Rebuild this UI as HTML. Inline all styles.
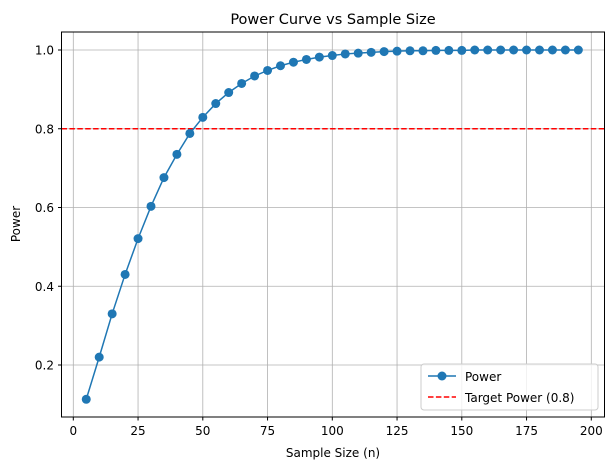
<!DOCTYPE html>
<html><head><meta charset="utf-8"><style>
body{margin:0;background:#fff;}
text{font-family:"DejaVu Sans","Liberation Sans",sans-serif;}
</style></head><body>
<svg id="chart" width="615" height="470" xmlns="http://www.w3.org/2000/svg">
<rect width="615" height="470" fill="#fff"/>
<g id="grid"></g>
<g id="ticks"></g>
<line id="target" stroke="red" stroke-width="1.5" stroke-dasharray="5.5,2.4"/>
<polyline id="line" fill="none" stroke="#1f77b4" stroke-width="1.5"/>
<g id="pts"></g>
<rect x="61.5" y="32" width="543" height="385" fill="none" stroke="#000" stroke-width="1"/>
<text x="333" y="24" font-size="14.5" text-anchor="middle">Power Curve vs Sample Size</text>
<text x="333" y="457" font-size="12" text-anchor="middle">Sample Size (n)</text>
<text transform="translate(20,224) rotate(-90)" font-size="12" text-anchor="middle">Power</text>
<g>
<rect x="421" y="364" width="177" height="46" rx="3" fill="#fff" fill-opacity="0.8" stroke="#ccc"/>
<line x1="428" y1="376" x2="456" y2="376" stroke="#1f77b4" stroke-width="1.5"/>
<circle cx="442" cy="376" r="4.5" fill="#1f77b4"/>
<text x="465" y="381" font-size="12">Power</text>
<line x1="428" y1="397" x2="456" y2="397" stroke="red" stroke-width="1.5" stroke-dasharray="5.5,2.4"/>
<text x="465" y="402" font-size="12">Target Power (0.8)</text>
</g>
</svg>
<script>
const sampleSizes=[5,10,15,20,25,30,35,40,45,50,55,60,65,70,75,80,85,90,95,100,105,110,115,120,125,130,135,140,145,150,155,160,165,170,175,180,185,190,195];
const powerValues=[0.113,0.22,0.33,0.43,0.521,0.603,0.676,0.735,0.788,0.829,0.864,0.892,0.915,0.934,0.948,0.96,0.969,0.976,0.982,0.986,0.99,0.992,0.994,0.996,0.997,0.998,0.998,0.999,0.999,0.999,1.0,1.0,1.0,1.0,1.0,1.0,1.0,1.0,1.0];
const xTicks=[0,25,50,75,100,125,150,175,200];
const yTicks=[0.2,0.4,0.6,0.8,1.0];
const targetPower=0.8;
const NS="http://www.w3.org/2000/svg";
const X=v=>73.3+v*2.59, Y=v=>50+(1-v)*393.75;
function mk(tag,attrs,parent){const e=document.createElementNS(NS,tag);for(const k in attrs)e.setAttribute(k,attrs[k]);parent.appendChild(e);return e;}
const grid=document.getElementById('grid'),ticks=document.getElementById('ticks');
xTicks.forEach(t=>{const x=X(t);
 const g=mk('line',{x1:x,x2:x,y1:32,y2:417,stroke:'#b0b0b0','stroke-width':0.8},grid);
 
 
 mk('line',{x1:x,x2:x,y1:417,y2:420.5,stroke:'#000'},ticks);
 const tx=mk('text',{x:x,y:435,'font-size':12,'text-anchor':'middle'},ticks);tx.textContent=t;
 
 
});
yTicks.forEach(t=>{const y=Y(t);
 const g=mk('line',{x1:61.5,x2:604.5,y1:y,y2:y,stroke:'#b0b0b0','stroke-width':0.8},grid);
 
 
 mk('line',{x1:58,x2:61.5,y1:y,y2:y,stroke:'#000'},ticks);
 const tx=mk('text',{x:54,y:y+4.5,'font-size':12,'text-anchor':'end'},ticks);tx.textContent=t.toFixed(1);
 
 
});
const tl=document.getElementById('target');
tl.setAttribute('x1',61.5);tl.setAttribute('x2',604.5);tl.setAttribute('y1',Y(targetPower));tl.setAttribute('y2',Y(targetPower));
document.getElementById('line').setAttribute('points',sampleSizes.map((s,i)=>X(s)+','+Y(powerValues[i])).join(' '));
const pts=document.getElementById('pts');
sampleSizes.forEach((s,i)=>{const c=mk('circle',{cx:X(s),cy:Y(powerValues[i]),r:4.5,fill:'#1f77b4'},pts);
 
 
});
</script>
</body></html>
